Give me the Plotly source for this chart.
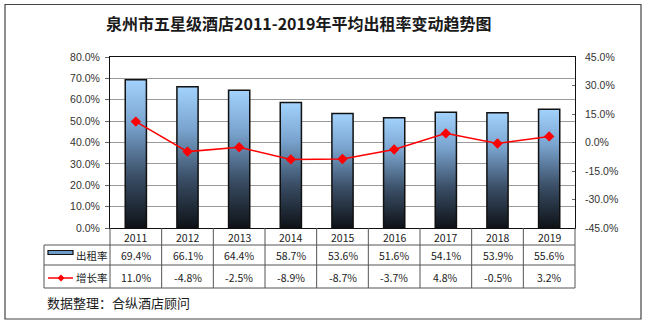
import plotly.graph_objects as go

years = ["2011", "2012", "2013", "2014", "2015", "2016", "2017", "2018", "2019"]
occupancy = [69.4, 66.1, 64.4, 58.7, 53.6, 51.6, 54.1, 53.9, 55.6]
growth = [11.0, -4.8, -2.5, -8.9, -8.7, -3.7, 4.8, -0.5, 3.2]
left_ticks = [0, 10, 20, 30, 40, 50, 60, 70, 80]
right_ticks = [-45, -30, -15, 0, 15, 30, 45]
title_text = "泉州市五星级酒店2011-2019年平均出租率变动趋势图"
footer_text = "数据整理：合纵酒店顾问"
row_names = ["出租率", "增长率"]

W, H = 646, 325
PL, PR, PT, PB = 110, 575, 57, 228  # plot area in px
n = len(years)
colw = (PR - PL) / n
hw = 0.205

def px(x):
    return x / W

def py(y):
    return 1 - y / H

fig = go.Figure()

# gradient bars
for i, v in enumerate(occupancy):
    fig.add_trace(go.Scatter(
        x=[i - hw, i + hw, i + hw, i - hw, i - hw],
        y=[0, 0, v, v, 0],
        mode="lines", fill="toself",
        fillgradient=dict(type="vertical", start=0, stop=v,
                          colorscale=[[0, "#0e1217"], [0.35, "#3a4e66"],
                                      [0.7, "#7aa4cf"], [1, "#a2d2fd"]]),
        line=dict(color="#111111", width=1.5),
        hoverinfo="skip", showlegend=False, xaxis="x", yaxis="y",
    ))

# growth line
fig.add_trace(go.Scatter(
    x=list(range(n)), y=growth, mode="lines+markers",
    line=dict(color="#ff0000", width=1.5),
    marker=dict(symbol="diamond", size=8, color="#ff0000"),
    showlegend=False, xaxis="x", yaxis="y2",
))

shapes = []
annotations = []

# outer border
shapes.append(dict(type="rect", xref="paper", yref="paper",
                   x0=px(5), x1=px(641), y0=py(319), y1=py(4.5),
                   line=dict(color="#444444", width=1.2)))

TBL_L = 44
R1, R2, R3 = 245, 265, 288
lc = "#555555"

def hline(y, x0, x1):
    shapes.append(dict(type="line", xref="paper", yref="paper",
                       x0=px(x0), x1=px(x1), y0=py(y), y1=py(y),
                       line=dict(color=lc, width=1)))

def vline(x, y0, y1):
    shapes.append(dict(type="line", xref="paper", yref="paper",
                       x0=px(x), x1=px(x), y0=py(y0), y1=py(y1),
                       line=dict(color=lc, width=1)))

hline(R1, TBL_L, PR)
hline(R2, TBL_L, PR)
hline(R3, TBL_L, PR)
vline(TBL_L, R1, R3)
for k in range(n + 1):
    vline(PL + k * colw, PB, R3)

tf = dict(family="Noto Sans CJK SC, Noto Sans, sans-serif", size=10.5, color="#1a1a1a")
for i in range(n):
    cx = PL + (i + 0.5) * colw
    annotations.append(dict(xref="paper", yref="paper", x=px(cx), y=py(237),
                            text=years[i], showarrow=False, font=tf,
                            xanchor="center", yanchor="middle"))
    annotations.append(dict(xref="paper", yref="paper", x=px(cx), y=py(255.5),
                            text=f"{occupancy[i]:.1f}%", showarrow=False, font=tf,
                            xanchor="center", yanchor="middle"))
    annotations.append(dict(xref="paper", yref="paper", x=px(cx), y=py(277.5),
                            text=f"{growth[i]:.1f}%", showarrow=False, font=tf,
                            xanchor="center", yanchor="middle"))

# row headers with legend icons
annotations.append(dict(xref="paper", yref="paper", x=px(74), y=py(255.5),
                        text=row_names[0], showarrow=False, font=tf,
                        xanchor="left", yanchor="middle"))
annotations.append(dict(xref="paper", yref="paper", x=px(74), y=py(277.5),
                        text=row_names[1], showarrow=False, font=tf,
                        xanchor="left", yanchor="middle"))
shapes.append(dict(type="rect", xref="paper", yref="paper",
                   x0=px(48), x1=px(73), y0=py(254.5), y1=py(250.5),
                   fillcolor="#6f9cc9", line=dict(color="#111111", width=1.2)))
shapes.append(dict(type="line", xref="paper", yref="paper",
                   x0=px(48), x1=px(73), y0=py(278), y1=py(278),
                   line=dict(color="#ff0000", width=1.5)))
dx, dy, d = 61, 278, 3.5
shapes.append(dict(type="path", xref="paper", yref="paper",
                   path=f"M {px(dx-d)},{py(dy)} L {px(dx)},{py(dy-d)} L {px(dx+d)},{py(dy)} L {px(dx)},{py(dy+d)} Z",
                   fillcolor="#ff0000", line=dict(color="#ff0000", width=0)))

# title and footer
annotations.append(dict(xref="paper", yref="paper", x=px(298), y=py(23),
                        text=f"<b>{title_text}</b>", showarrow=False,
                        font=dict(family="Noto Sans CJK SC, sans-serif", size=16, color="#1a1a1a"),
                        xanchor="center", yanchor="middle"))
annotations.append(dict(xref="paper", yref="paper", x=px(45), y=py(302),
                        text=footer_text, showarrow=False,
                        font=dict(family="Noto Sans CJK SC, sans-serif", size=13, color="#1a1a1a"),
                        xanchor="left", yanchor="middle"))

axfont = dict(family="Liberation Sans, Arial, sans-serif", size=10.5, color="#333333")

fig.update_layout(
    width=W, height=H,
    margin=dict(l=0, r=0, t=0, b=0),
    paper_bgcolor="white", plot_bgcolor="white",
    showlegend=False,
    xaxis=dict(domain=[px(PL), px(PR)], range=[-0.5, n - 0.5],
               showticklabels=False, showgrid=False, zeroline=False,
               showline=True, linecolor="#111111", linewidth=1, mirror=True,
               ticks="", fixedrange=True),
    yaxis=dict(domain=[py(PB), py(PT)], range=[0, 80],
               tickvals=left_ticks, ticktext=[f"{t:.1f}%" for t in left_ticks],
               showgrid=True, gridcolor="#9a9a9a", gridwidth=1.4,
               zeroline=False, showline=True, linecolor="#111111", linewidth=1,
               mirror=True, ticks="outside", ticklen=4, tickcolor="#666666",
               tickfont=axfont, automargin=False, ticklabelstandoff=3),
    yaxis2=dict(overlaying="y", side="right", range=[-45, 45],
                tickvals=right_ticks, ticktext=[f"{t:.1f}%" for t in right_ticks],
                showgrid=False, zeroline=False, showline=False,
                ticks="inside", ticklen=3, tickcolor="#666666",
                tickfont=axfont, automargin=False, anchor="x",
                ticklabelstandoff=9),
    shapes=shapes,
    annotations=annotations,
)

fig.write_html("out.html")
